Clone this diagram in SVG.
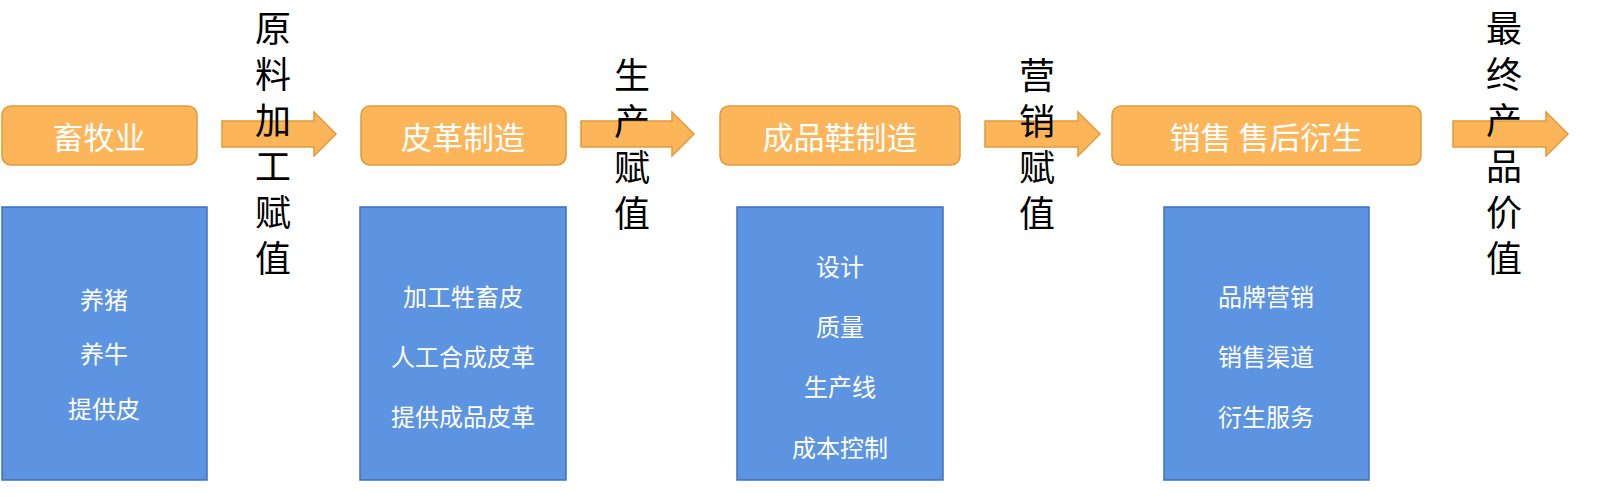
<svg xmlns="http://www.w3.org/2000/svg" width="1609" height="497" viewBox="0 0 1609 497">
<defs>
<style>
.o{fill:#FDB55A;stroke:#E09A3A;stroke-width:1.5}
.b{fill:#5D94E2;stroke:#3F6FBF;stroke-width:1.5}
.a{fill:#FDB55A;stroke:#E09A3A;stroke-width:1.5}
.ot{font-family:"Noto Sans CJK SC",sans-serif;font-size:31px;fill:#fff;text-anchor:middle;dominant-baseline:central}
.bt{font-family:"Noto Sans CJK SC",sans-serif;font-size:24px;fill:#fff;text-anchor:middle;dominant-baseline:central}
.vt{font-family:"Noto Sans CJK SC",sans-serif;font-size:36px;fill:#000;writing-mode:vertical-rl;letter-spacing:10px}
</style>
</defs>
<rect width="1609" height="497" fill="#fff"/>
<g id="connectors">
<path class="a" d="M222,121 H314 V112 L336,134 L314,156 V147 H222 Z"/>
<path class="a" d="M581,121 H672 V112 L694,134 L672,156 V147 H581 Z"/>
<path class="a" d="M985,121 H1078 V112 L1100,134 L1078,156 V147 H985 Z"/>
<path class="a" d="M1453,121 H1546 V112 L1568,134 L1546,156 V147 H1453 Z"/>
</g>
<g id="n1"><rect class="o" x="2" y="106" width="195" height="59" rx="9"/><text class="ot" x="99" y="135">畜牧业</text></g>
<g id="n2"><rect class="o" x="361" y="106" width="205" height="59" rx="9"/><text class="ot" x="463" y="135">皮革制造</text></g>
<g id="n3"><rect class="o" x="720" y="106" width="240" height="59" rx="9"/><text class="ot" x="840" y="135">成品鞋制造</text></g>
<g id="n4"><rect class="o" x="1112" y="106" width="309" height="59" rx="9"/><text class="ot" x="1266" y="135">销售 售后衍生</text></g>
<g id="b1"><rect class="b" x="2" y="207" width="205" height="273"/>
<text class="bt" x="104" y="298">养猪</text><text class="bt" x="104" y="352">养牛</text><text class="bt" x="104" y="407">提供皮</text></g>
<g id="b2"><rect class="b" x="360" y="207" width="206" height="273"/>
<text class="bt" x="463" y="295">加工牲畜皮</text><text class="bt" x="463" y="355">人工合成皮革</text><text class="bt" x="463" y="415">提供成品皮革</text></g>
<g id="b3"><rect class="b" x="737" y="207" width="206" height="273"/>
<text class="bt" x="840" y="265">设计</text><text class="bt" x="840" y="325">质量</text><text class="bt" x="840" y="385">生产线</text><text class="bt" x="840" y="446">成本控制</text></g>
<g id="b4"><rect class="b" x="1164" y="207" width="205" height="273"/>
<text class="bt" x="1266" y="295">品牌营销</text><text class="bt" x="1266" y="355">销售渠道</text><text class="bt" x="1266" y="415">衍生服务</text></g>
<text class="vt" x="273" y="10">原料加工赋值</text>
<text class="vt" x="632" y="57">生产赋值</text>
<text class="vt" x="1037" y="57">营销赋值</text>
<text class="vt" x="1504" y="10">最终产品价值</text>
</svg>
